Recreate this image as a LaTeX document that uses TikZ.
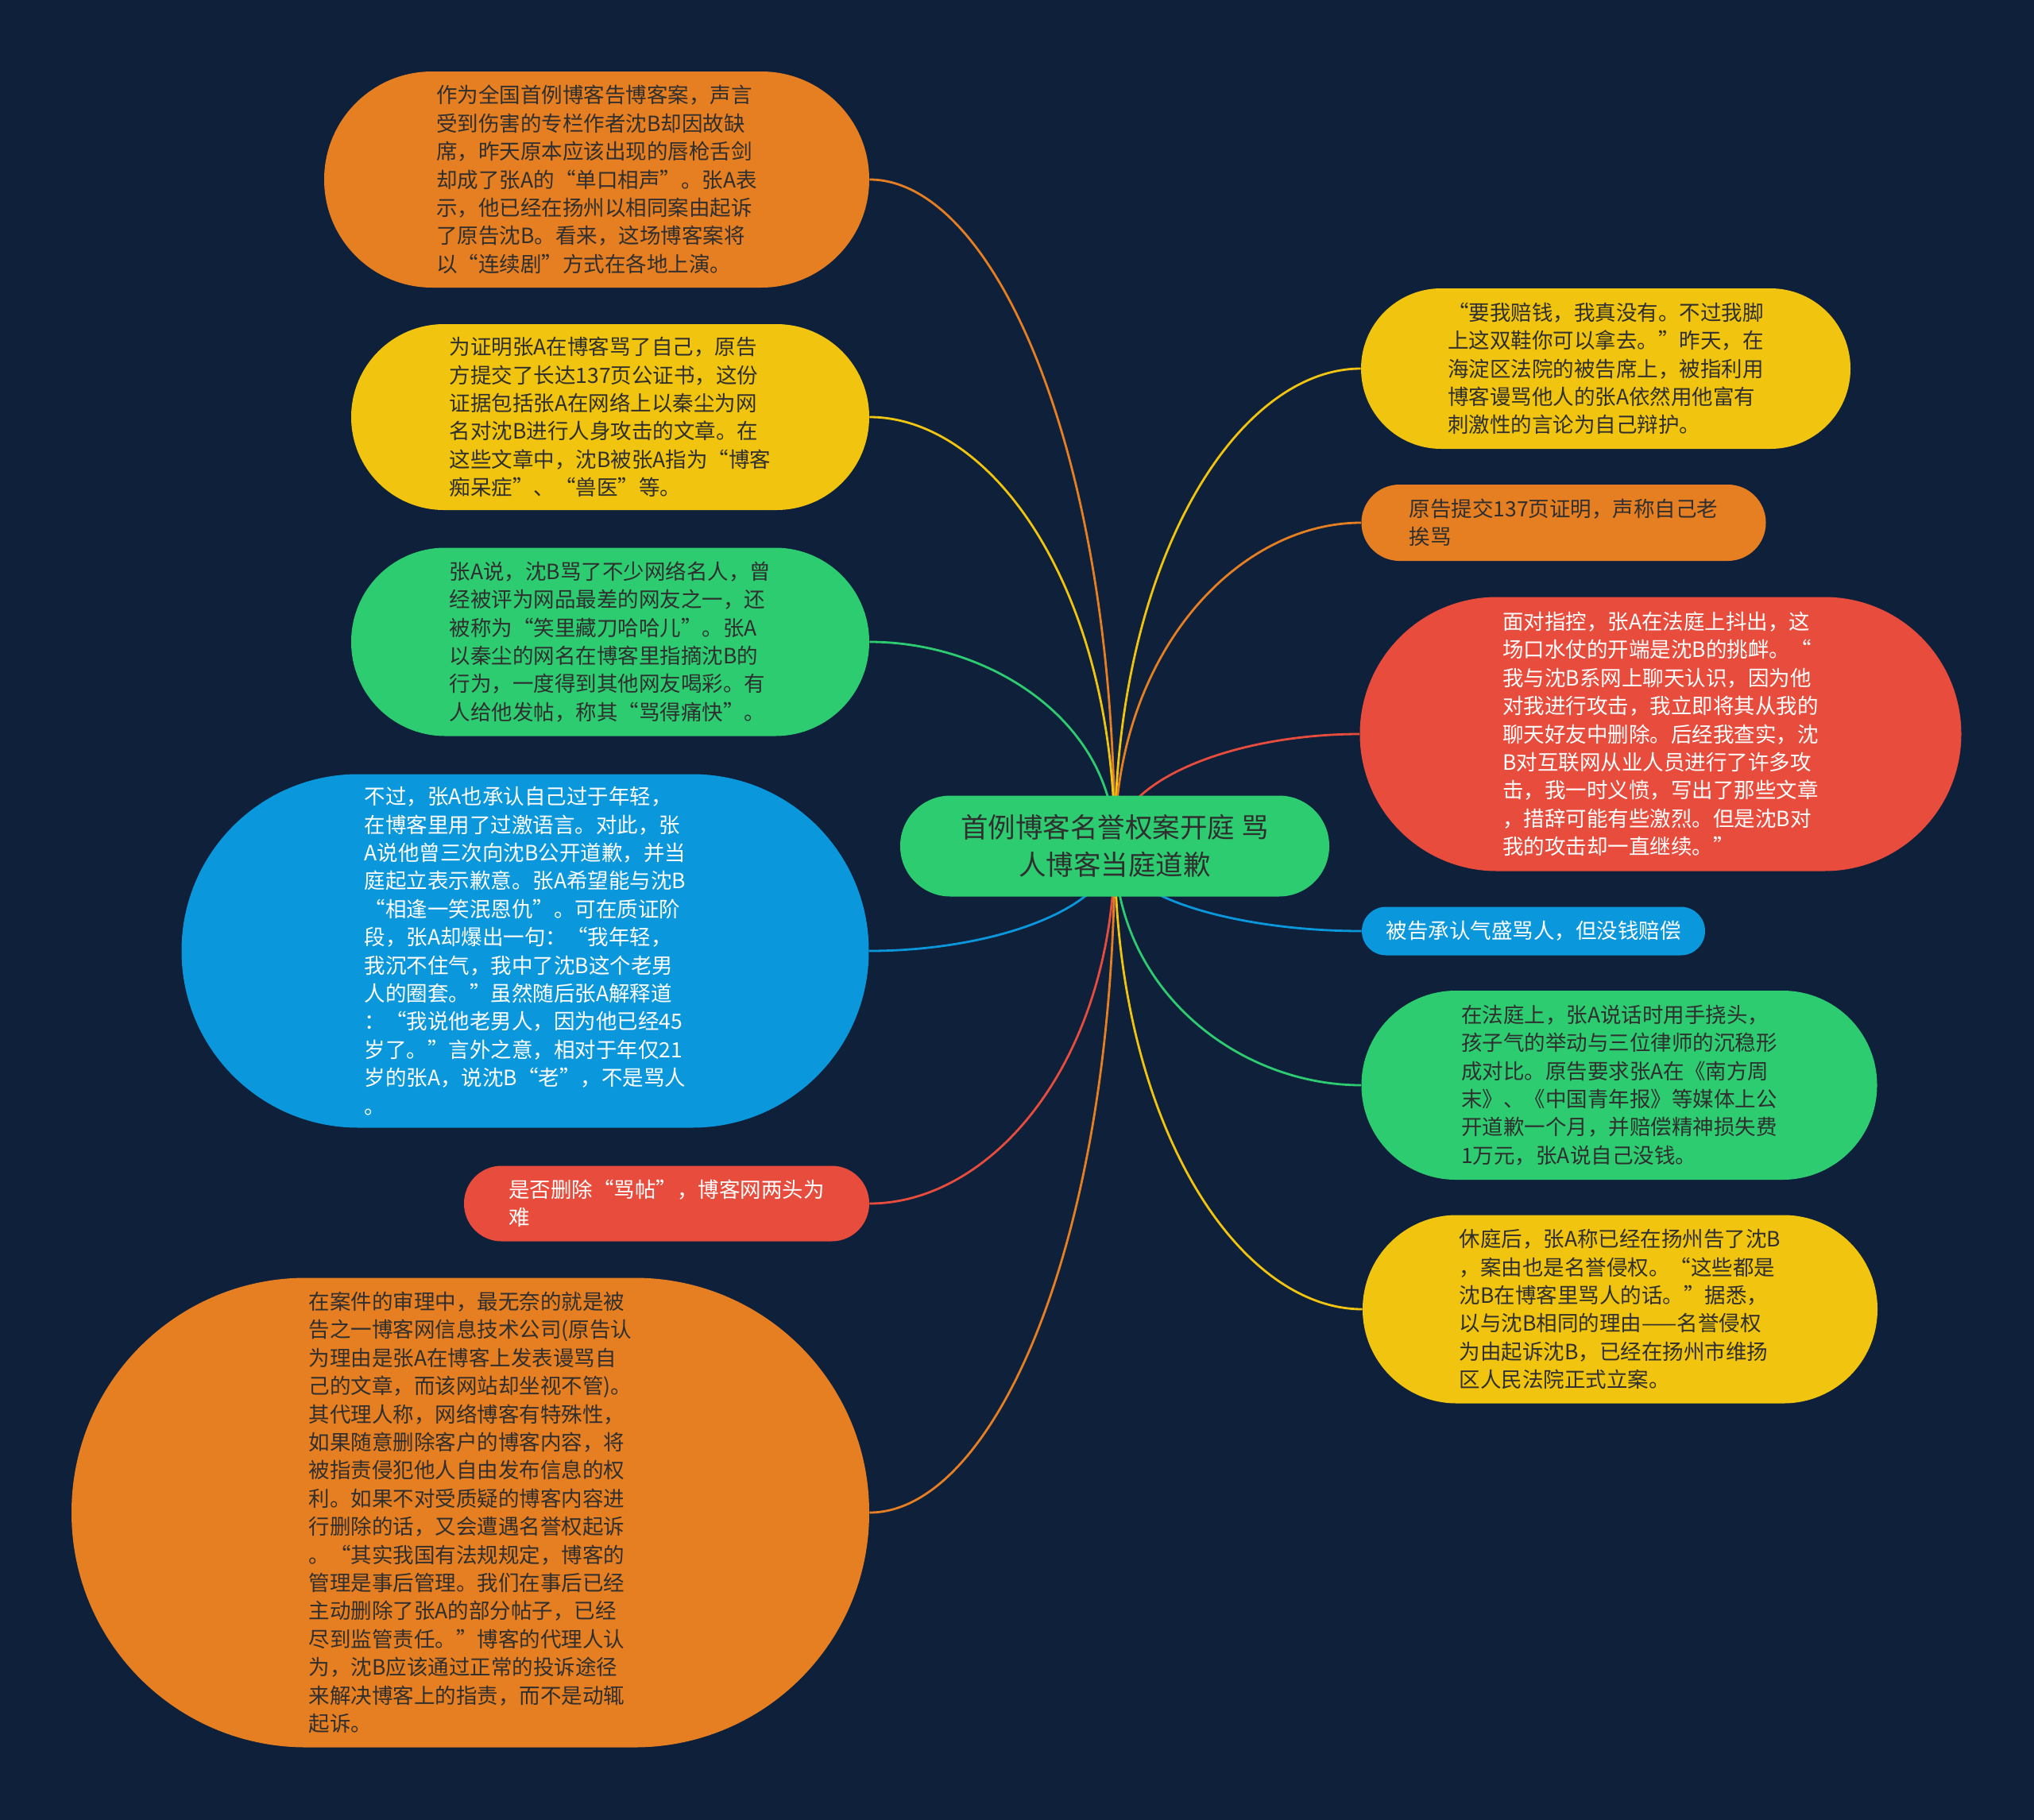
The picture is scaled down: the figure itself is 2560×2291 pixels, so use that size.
\documentclass[tikz,border=0pt]{standalone}
\usepackage{fontspec}
\newfontfamily\cjk{Noto Sans CJK SC}
\usetikzlibrary{calc}
\definecolor{bgc}{RGB}{14,32,58}
\definecolor{cor}{HTML}{E67E22}
\definecolor{cye}{HTML}{F1C40F}
\definecolor{cgr}{HTML}{2ECC71}
\definecolor{cbl}{HTML}{0A97DB}
\definecolor{cre}{HTML}{E74C3C}
\definecolor{dtx}{HTML}{2F2F2F}
\pgfdeclarelayer{bgl}\pgfdeclarelayer{lnl}\pgfsetlayers{bgl,lnl,main}
\tikzset{
  bub/.style n args={4}{fill=#1, minimum width=#2pt, minimum height=#3pt, rounded corners=#4pt,
    inner sep=0pt, align=left, text=dtx, font=\cjk\fontsize{13.25pt}{17.7pt}\selectfont},
  wtx/.style={text=white},
  rootbox/.style={fill=cgr, minimum width=270pt, minimum height=63.5pt, rounded corners=31.6pt,
    inner sep=0pt, align=center, text=dtx, font=\cjk\fontsize{17.25pt}{23.3pt}\selectfont},
  cn/.style={draw=#1, line width=1.4pt},
}
\begin{document}
\begin{tikzpicture}[x=0.5pt, y=-0.5pt]
\begin{pgfonlayer}{bgl}
\fill[bgc] (0,0) rectangle (2560,2291);
\end{pgfonlayer}
\useasboundingbox (0,0) rectangle (2560,2291);

\node[rootbox] (root) at (1403,1065) {首例博客名誉权案开庭 骂\\人博客当庭道歉};

% left side
\node[bub={cor}{343}{136}{67.9}] (o1) at (751,226) {作为全国首例博客告博客案，声言\\受到伤害的专栏作者沈B却因故缺\\席，昨天原本应该出现的唇枪舌剑\\却成了张A的“单口相声”。张A表\\示，他已经在扬州以相同案由起诉\\了原告沈B。看来，这场博客案将\\以“连续剧”方式在各地上演。};
\node[bub={cye}{326}{117}{58.4}] (y1) at (768,525) {为证明张A在博客骂了自己，原告\\方提交了长达137页公证书，这份\\证据包括张A在网络上以秦尘为网\\名对沈B进行人身攻击的文章。在\\这些文章中，沈B被张A指为“博客\\痴呆症”、“兽医”等。};
\node[bub={cgr}{326}{118.5}{59.1}] (g1) at (768,808) {张A说，沈B骂了不少网络名人，曾\\经被评为网品最差的网友之一，还\\被称为“笑里藏刀哈哈儿”。张A\\以秦尘的网名在博客里指摘沈B的\\行为，一度得到其他网友喝彩。有\\人给他发帖，称其“骂得痛快”。};
\node[bub={cbl}{432.5}{222.5}{111.1}, wtx] (b1) at (661,1197) {不过，张A也承认自己过于年轻，\\在博客里用了过激语言。对此，张\\A说他曾三次向沈B公开道歉，并当\\庭起立表示歉意。张A希望能与沈B\\“相逢一笑泯恩仇”。可在质证阶\\段，张A却爆出一句：“我年轻，\\我沉不住气，我中了沈B这个老男\\人的圈套。”虽然随后张A解释道\\：“我说他老男人，因为他已经45\\岁了。”言外之意，相对于年仅21\\岁的张A，说沈B“老”，不是骂人\\。};
\node[bub={cre}{255}{47.5}{23.6}, wtx] (r1) at (839,1515) {是否删除“骂帖”，博客网两头为\\难};
\node[bub={cor}{502}{295.5}{147.6}] (o2) at (592,1904) {在案件的审理中，最无奈的就是被\\告之一博客网信息技术公司(原告认\\为理由是张A在博客上发表谩骂自\\己的文章，而该网站却坐视不管)。\\其代理人称，网络博客有特殊性，\\如果随意删除客户的博客内容，将\\被指责侵犯他人自由发布信息的权\\利。如果不对受质疑的博客内容进\\行删除的话，又会遭遇名誉权起诉\\。“其实我国有法规规定，博客的\\管理是事后管理。我们在事后已经\\主动删除了张A的部分帖子，已经\\尽到监管责任。”博客的代理人认\\为，沈B应该通过正常的投诉途径\\来解决博客上的指责，而不是动辄\\起诉。};

% right side
\node[bub={cye}{308}{101}{50.4}] (R1) at (2021,464) {“要我赔钱，我真没有。不过我脚\\上这双鞋你可以拿去。”昨天，在\\海淀区法院的被告席上，被指利用\\博客谩骂他人的张A依然用他富有\\刺激性的言论为自己辩护。};
\node[bub={cor}{254.5}{48}{23.9}] (R2) at (1968,658) {原告提交137页证明，声称自己老\\挨骂};
\node[bub={cre}{378.5}{172.5}{86.2}, wtx] (R3) at (2090,924) {面对指控，张A在法庭上抖出，这\\场口水仗的开端是沈B的挑衅。“\\我与沈B系网上聊天认识，因为他\\对我进行攻击，我立即将其从我的\\聊天好友中删除。后经我查实，沈\\B对互联网从业人员进行了许多攻\\击，我一时义愤，写出了那些文章\\，措辞可能有些激烈。但是沈B对\\我的攻击却一直继续。”};
\node[bub={cbl}{216}{30.5}{15.2}, wtx] (R4) at (1930,1172) {被告承认气盛骂人，但没钱赔偿};
\node[bub={cgr}{324.5}{119}{59.4}] (R5) at (2038,1366) {在法庭上，张A说话时用手挠头，\\孩子气的举动与三位律师的沉稳形\\成对比。原告要求张A在《南方周\\末》、《中国青年报》等媒体上公\\开道歉一个月，并赔偿精神损失费\\1万元，张A说自己没钱。};
\node[bub={cye}{324}{118.5}{59.1}] (R6) at (2039,1648) {休庭后，张A称已经在扬州告了沈B\\，案由也是名誉侵权。“这些都是\\沈B在博客里骂人的话。”据悉，\\以与沈B相同的理由——名誉侵权\\为由起诉沈B，已经在扬州市维扬\\区人民法院正式立案。};

\begin{pgfonlayer}{lnl}
\foreach \t/\a/\c in {o1/east/cor, y1/east/cye, g1/east/cgr, b1/east/cbl, r1/east/cre, o2/east/cor,
  R1/west/cye, R2/west/cor, R3/west/cre, R4/west/cbl, R5/west/cgr, R6/west/cye}{
  \draw[cn=\c] (root.center) .. controls ($(root.center)!0.6!(root.center |- \t.\a)$)
     and ($(\t.\a)!0.5!(root.center |- \t.\a)$) .. (\t.\a);
}
\end{pgfonlayer}
\end{tikzpicture}
\end{document}
